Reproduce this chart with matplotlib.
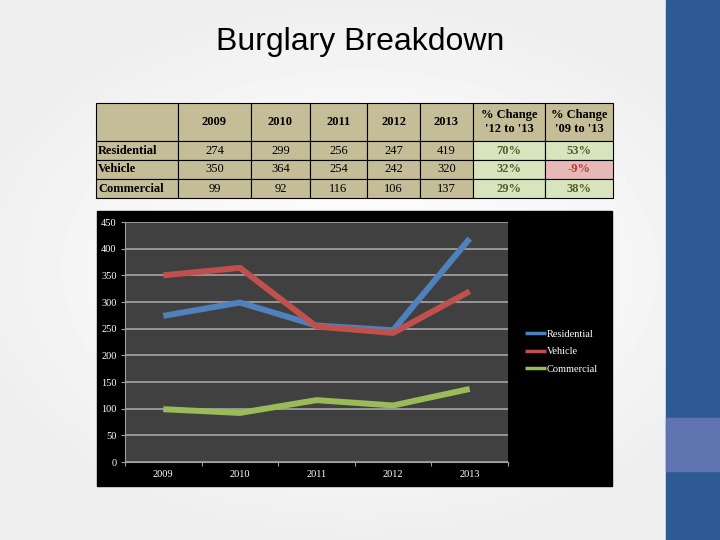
import numpy as np
import matplotlib.pyplot as plt
from matplotlib.patches import Rectangle

# data
years = ['2009', '2010', '2011', '2012', '2013']
series_names = ['Residential', 'Vehicle', 'Commercial']
residential = [274, 299, 256, 247, 419]
vehicle = [350, 364, 254, 242, 320]
commercial = [99, 92, 116, 106, 137]
change_12_13 = ['70%', '32%', '29%']
change_09_13 = ['53%', '-9%', '38%']
change_headers = ["% Change\n'12 to '13", "% Change\n'09 to '13"]
y_ticks = [0, 50, 100, 150, 200, 250, 300, 350, 400, 450]

W, H = 720, 540
fig = plt.figure(figsize=(7.2, 5.4), dpi=100)


def px_axes(x0, y0, x1, y1, **kw):
    # axes placed in pixel coordinates (origin top-left)
    return fig.add_axes([x0 / W, 1 - y1 / H, (x1 - x0) / W, (y1 - y0) / H], **kw)


# slide background
bg = px_axes(0, 0, W, H)
xx, yy = np.meshgrid(np.linspace(-1, 1, 200), np.linspace(-1, 1, 150))
r = np.clip(np.sqrt((xx * 0.9) ** 2 + yy ** 2), 0, 1)
bg.imshow(0.985 - 0.05 * r ** 2, cmap='gray', vmin=0, vmax=1, extent=[0, W, H, 0], aspect='auto')
bg.add_patch(Rectangle((666, 0), 54, H, color='#2E5A94'))
bg.add_patch(Rectangle((666, 418), 54, 53, color='#5F74B0'))
bg.set_xlim(0, W)
bg.set_ylim(H, 0)
bg.axis('off')

fig.text(360 / W, 1 - 42 / H, 'Burglary Breakdown', ha='center', va='center',
         fontsize=23, family='Liberation Sans')

# table
tab = px_axes(0, 0, W, H)
tab.set_xlim(0, W)
tab.set_ylim(H, 0)
tab.axis('off')
col_x = [96, 178, 251, 310, 367, 420, 473, 545, 613]
row_y = [103, 141, 160, 179, 198]
tan = '#C4BD97'
serif = 'Liberation Serif'
fs = 9
for i in range(len(col_x) - 1):
    for j in range(len(row_y) - 1):
        fc = tan
        if j > 0 and i >= 6:
            fc = '#D7E4BD'
            if i == 7 and change_09_13[j - 1].startswith('-'):
                fc = '#E6B9B8'
        tab.add_patch(Rectangle((col_x[i], row_y[j]), col_x[i + 1] - col_x[i],
                                row_y[j + 1] - row_y[j], facecolor=fc,
                                edgecolor='black', lw=0.8))


def cx(i):
    return (col_x[i] + col_x[i + 1]) / 2


def cy(j):
    return (row_y[j] + row_y[j + 1]) / 2


for i, yr in enumerate(years):
    tab.text(cx(i + 1), cy(0), yr, ha='center', va='center', fontsize=fs,
             weight='bold', family=serif)
for k, h in enumerate(change_headers):
    tab.text(cx(6 + k), cy(0), h, ha='center', va='center', fontsize=fs,
             weight='bold', family=serif, linespacing=1.15)
for j, (name, vals) in enumerate(zip(series_names, [residential, vehicle, commercial])):
    tab.text(col_x[0] + 2, cy(j + 1), name, ha='left', va='center', fontsize=fs,
             weight='bold', family=serif)
    for i, v in enumerate(vals):
        tab.text(cx(i + 1), cy(j + 1), str(v), ha='center', va='center',
                 fontsize=fs, family=serif)
    for k, pc in enumerate([change_12_13[j], change_09_13[j]]):
        tc = '#C0392B' if pc.startswith('-') else '#4F6228'
        tab.text(cx(6 + k), cy(j + 1), pc, ha='center', va='center', fontsize=fs,
                 weight='bold', family=serif, color=tc)

# chart area (black)
tab.add_patch(Rectangle((97, 211), 515, 275, color='black'))

ax = px_axes(125, 222, 508, 462)
ax.set_facecolor('#404040')
x = np.arange(len(years)) + 0.5
colors = ['#4F81BD', '#C0504D', '#9BBB59']
for name, vals, c in zip(series_names, [residential, vehicle, commercial], colors):
    ax.plot(x, vals, color=c, lw=4.3, label=name, solid_capstyle='butt')
ax.set_xlim(0, len(years))
ax.set_ylim(0, 450)
ax.set_yticks(y_ticks)
ax.set_yticklabels([str(t) for t in y_ticks], family=serif, fontsize=7.5, color='white')
ax.set_xticks(np.arange(len(years) + 1))
ax.set_xticklabels([])
ax.set_xticks(x, minor=True)
ax.set_xticklabels(years, minor=True, family=serif, fontsize=7.5, color='white')
ax.tick_params(axis='x', which='minor', length=0, pad=6)
ax.tick_params(axis='x', which='major', length=3, color='#A0A0A0')
ax.tick_params(axis='y', length=3, color='#A0A0A0', pad=3)
ax.grid(axis='y', color='#A6A6A6', lw=1.2)
ax.set_axisbelow(True)
for s in ['top', 'right']:
    ax.spines[s].set_visible(False)
for s in ['left', 'bottom']:
    ax.spines[s].set_color('#A0A0A0')
leg = ax.legend(loc='center left', bbox_to_anchor=(1.02, 0.46), frameon=False,
                prop={'family': serif, 'size': 7.5}, handlelength=2.0,
                handletextpad=0.1, labelspacing=0.8)
for t in leg.get_texts():
    t.set_color('white')
for l in leg.get_lines():
    l.set_linewidth(2.5)

fig.savefig('out.png', dpi=100)
